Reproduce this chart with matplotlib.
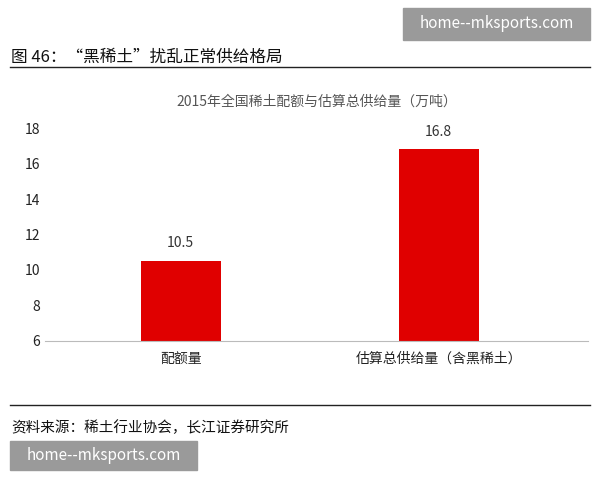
import matplotlib.pyplot as plt
from matplotlib.patches import Rectangle
from matplotlib.lines import Line2D

plt.rcParams['font.family'] = ['Noto Sans CJK SC', 'DejaVu Sans']

categories = ['配额量', '估算总供给量（含黑稀土）']
values = [10.5, 16.8]

fig = plt.figure(figsize=(6, 4.8), dpi=100)
ax = fig.add_axes([0.075, 0.29, 0.905, 0.443])

x = range(len(categories))
ax.bar(x, values, width=0.31, color='#e00000', bottom=0)
for i, v in zip(x, values):
    ax.text(i, v + 0.6, f'{v}', ha='center', va='bottom', fontsize=10, color='#333333')

ax.set_ylim(6, 18)
ax.set_yticks(range(6, 19, 2))
ax.set_xlim(-0.526, 1.579)
ax.set_xticks(list(x))
ax.set_xticklabels(categories, fontsize=10)
ax.tick_params(axis='both', length=0, labelsize=10, colors='#222222')
ax.tick_params(axis='x', pad=8)
for s in ['top', 'right', 'left']:
    ax.spines[s].set_visible(False)
ax.spines['bottom'].set_color('#bbbbbb')
ax.set_title('2015年全国稀土配额与估算总供给量（万吨）', fontsize=10, color='#555555', pad=16)

# header and footer
fig.text(0.018, 0.88, '图 46：“黑稀土”扰乱正常供给格局', fontsize=12, va='center', color='#111111')
fig.add_artist(Line2D([0.017, 0.983], [0.86, 0.86], color='#222222', lw=1))
fig.add_artist(Line2D([0.017, 0.983], [0.157, 0.157], color='#222222', lw=1))
fig.text(0.018, 0.11, '资料来源：稀土行业协会，长江证券研究所', fontsize=10.5, va='center', color='#111111')

# watermarks
fig.add_artist(Rectangle((0.672, 0.917), 0.312, 0.066, color='#9a9a9a'))
fig.text(0.828, 0.95, 'home--mksports.com', ha='center', va='center', color='white', fontsize=11)
fig.add_artist(Rectangle((0.017, 0.021), 0.312, 0.06, color='#9a9a9a'))
fig.text(0.173, 0.051, 'home--mksports.com', ha='center', va='center', color='white', fontsize=11)

fig.savefig('out.png', dpi=100)
